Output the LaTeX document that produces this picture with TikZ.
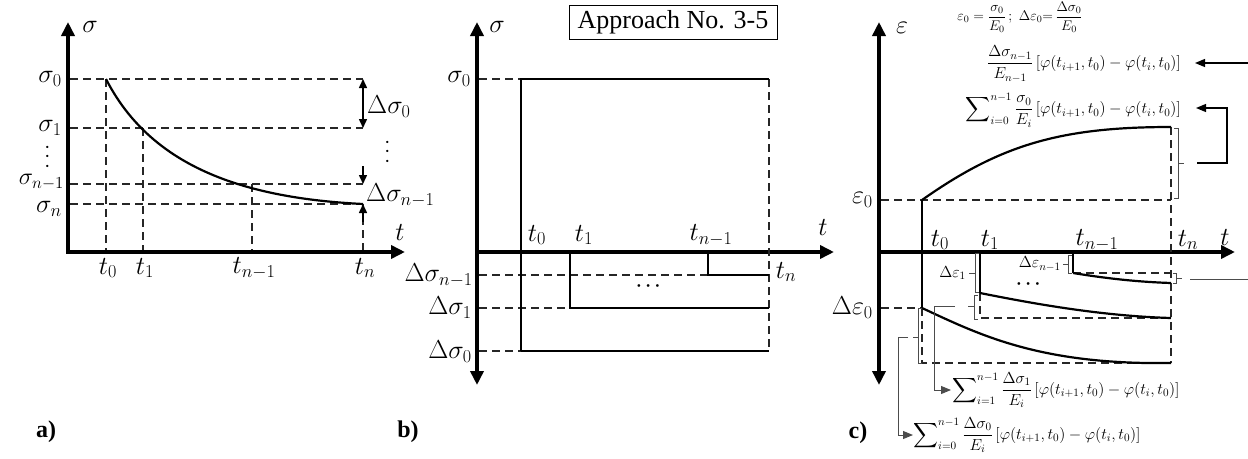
\RequirePackage{fix-cm}
\documentclass[tikz,border=0pt]{standalone}
\usepackage{amsmath}
\usepackage{fontspec}
\newfontfamily\tnr{Liberation Serif}
\usetikzlibrary{arrows.meta}
\begin{document}
\begin{tikzpicture}[x=1pt,y=-1pt,
  axis/.style={line width=3.5pt,line join=miter},
  tipA/.style={-{Triangle[length=14pt,width=13pt]}},
  ds/.style={line width=1.8pt,dash pattern=on 8pt off 5pt,black!85},
  crv/.style={line width=2.2pt},
  sol/.style={line width=1.8pt},
  dim/.style={line width=1.5pt},
  brk/.style={line width=1pt,black!70},
  lbl/.style={font=\fontsize{26}{30}\selectfont,inner sep=0pt},
  vdt/.style={font=\fontsize{22}{26}\selectfont,inner sep=0pt,rotate=90},
  expr/.style={font=\fontsize{16}{19}\selectfont,inner sep=0pt},
  tag/.style={font=\tnr\bfseries\fontsize{24}{28}\selectfont,inner sep=0pt}]
\useasboundingbox (0,0) rectangle (1248,458);

%================ panel a ================
\coordinate (aO) at (68,252);
\coordinate (aYt) at (68,22);
\coordinate (aXt) at (405,252);
\draw[axis,{Triangle[length=14pt,width=13pt]}-{Triangle[length=14pt,width=13pt]}] (aYt) -- (aO) -- (aXt);
\coordinate (a00) at (106,79);
\coordinate (a11) at (143,128);
\coordinate (ann1) at (252,184);
\coordinate (ann) at (363,204);
\coordinate (aL0) at (70,79);
\coordinate (aL1) at (70,128);
\coordinate (aLn1) at (70,184);
\coordinate (aLn) at (70,204);
\coordinate (aR0) at (363,79);
\coordinate (aR1) at (363,128);
\coordinate (aRn1) at (363,184);
\coordinate (aT0) at (106,250);
\coordinate (aT1) at (143,250);
\coordinate (aTn1) at (252,250);
\coordinate (aTn) at (363,250);
\draw[ds] (aL0)--(aR0) (aL1)--(aR1) (aLn1)--(aRn1) (aLn)--(ann);
\draw[ds] (a00)--(aT0) (a11)--(aT1) (ann1)--(aTn1) (ann)--(aTn);
\draw[crv] (a00) .. controls (150,165) and (240,198) .. (ann);
\draw[dim,{Triangle[length=9pt,width=8pt]}-{Triangle[length=9pt,width=8pt]}] (aR0)--(aR1);
\coordinate (aA) at (363,166);
\coordinate (aB) at (363,222);
\draw[dim,-{Triangle[length=9pt,width=8pt]}] (aA)--(aRn1);
\draw[dim,-{Triangle[length=9pt,width=8pt]}] (aB)--(ann);
\node[lbl] (asig) at (90,27) {$\sigma$};
\node[lbl,anchor=east] (as0) at (62,79) {$\sigma_0$};
\node[lbl,anchor=east] (as1) at (62,128) {$\sigma_1$};
\node[vdt] (avd) at (48,155) {$\cdots$};
\node[lbl,anchor=east,font=\fontsize{24}{28}\selectfont] (asn1) at (64,182) {$\sigma_{n-1}$};
\node[lbl,anchor=east] (asn) at (62,209) {$\sigma_n$};
\node[lbl] (at) at (400,233) {$t$};
\node[lbl] (at0) at (108,268) {$t_0$};
\node[lbl] (at1) at (145,268) {$t_1$};
\node[lbl] (atn1) at (254,268) {$t_{n-1}$};
\node[lbl] (atn) at (365,268) {$t_n$};
\node[lbl,anchor=west] (ads0) at (367,107) {$\Delta\sigma_0$};
\node[vdt] (avd2) at (388,150) {$\cdots$};
\node[lbl,anchor=west] (adsn1) at (366,195) {$\Delta\sigma_{n-1}$};
\node[tag] (atag) at (46,432) {a)};

%================ panel b ================
\coordinate (bO) at (477,252);
\coordinate (bYt) at (477,22);
\coordinate (bYb) at (477,385);
\coordinate (bXt) at (834,252);
\draw[axis,{Triangle[length=14pt,width=13pt]}-{Triangle[length=14pt,width=13pt]}] (bYt) -- (bYb);
\draw[axis,tipA] (bO) -- (bXt);
\coordinate (bL0) at (479,79);
\coordinate (bP0) at (521,79);
\coordinate (bQ0) at (769,79);
\coordinate (bP0b) at (521,351);
\coordinate (bQ0b) at (769,351);
\coordinate (bL0b) at (479,351);
\coordinate (bP1) at (570,252);
\coordinate (bP1b) at (570,308);
\coordinate (bQ1) at (769,308);
\coordinate (bL1) at (479,308);
\coordinate (bPn) at (708,252);
\coordinate (bPnb) at (708,275);
\coordinate (bQn) at (769,275);
\coordinate (bLn) at (479,275);
\draw[ds] (bL0)--(bP0) (bQ0)--(bQ0b) (bL0b)--(bP0b) (bL1)--(bP1b) (bLn)--(bPnb);
\draw[sol] (bP0b)--(bP0)--(bQ0);
\draw[sol] (bP0b)--(bQ0b);
\draw[sol] (bP1)--(bP1b)--(bQ1);
\draw[sol] (bPn)--(bPnb)--(bQn);
\node[lbl] (bsig) at (497,27) {$\sigma$};
\node[draw,line width=0.8pt,inner xsep=3pt,inner ysep=2pt,font=\tnr\fontsize{26}{30}\selectfont,minimum width=208pt,minimum height=34pt] (box) at (673,22) {Approach No. 3-5};
\node[lbl,anchor=east] (bs0) at (471,79) {$\sigma_0$};
\node[lbl] (bt0) at (537,235) {$t_0$};
\node[lbl] (bt1) at (584,235) {$t_1$};
\node[lbl] (btn1) at (711,235) {$t_{n-1}$};
\node[lbl] (btn) at (786,272) {$t_n$};
\node[lbl] (bt) at (823,228) {$t$};
\node[lbl,anchor=east] (bdsn1) at (473,275) {$\Delta\sigma_{n-1}$};
\node[lbl,anchor=east] (bds1) at (472,308) {$\Delta\sigma_1$};
\node[lbl,anchor=east] (bds0) at (472,352) {$\Delta\sigma_0$};
\node[lbl,font=\bfseries\fontsize{18}{22}\selectfont] (bdots) at (650,286) {$\boldsymbol{\cdots}$};
\node[tag] (btag) at (408,432) {b)};

%================ panel c ================
\coordinate (cO) at (879,252);
\coordinate (cYt) at (879,22);
\coordinate (cYb) at (879,385);
\coordinate (cXt) at (1235,252);
\draw[axis,{Triangle[length=14pt,width=13pt]}-{Triangle[length=14pt,width=13pt]}] (cYt) -- (cYb);
\draw[axis,tipA] (cO) -- (cXt);
% upper strain
\coordinate (cE0L) at (881,200);
\coordinate (cE0) at (922,200);
\coordinate (cE0R) at (1171,200);
\coordinate (cTop) at (1171,127);
\coordinate (cBot) at (1171,363);
\coordinate (cD0) at (922,308);
\coordinate (cD0L) at (881,308);
\coordinate (cD0b) at (922,363);
\draw[ds] (cE0L)--(cE0R);
\draw[ds] (cTop)--(cBot);
\draw[ds] (cD0L)--(cD0);
\draw[ds] (cD0)--(cD0b)--(cBot);
\draw[sol] (cE0)--(cD0);
\draw[crv] (cE0) .. controls (1000,145) and (1060,127) .. (cTop);
\draw[crv] (cD0) .. controls (980,335) and (1040,365) .. (cBot);
% t1 branch
\coordinate (c1a) at (980,252);
\coordinate (c1b) at (980,293);
\coordinate (c1c) at (980,318);
\coordinate (c1e) at (1171,318);
\draw[sol] (c1a)--(c1b);
\draw[ds] (c1b)--(c1c)--(c1e);
\draw[crv] (c1b) .. controls (1030,303) and (1100,316) .. (c1e);
% tn-1 branch
\coordinate (cna) at (1073,252);
\coordinate (cnb) at (1073,273);
\coordinate (cnd) at (1171,273);
\coordinate (cne) at (1171,283);
\draw[sol] (cna)--(cnb);
\draw[ds] (cnb)--(cnd);
\draw[crv] (cnb) .. controls (1110,279) and (1140,282) .. (cne);
% brackets
\draw[brk] (1174,128)--(1178,128)--(1178,198)--(1174,198) (1178,163)--(1184,163);
\coordinate (cr1) at (1197,163);
\coordinate (cr2) at (1227,163);
\coordinate (cr3) at (1227,108);
\coordinate (cr4) at (1196,108);
\draw[brk,line width=1.2pt,black,-{Triangle[length=10pt,width=8pt]}] (cr1)--(cr2)--(cr3)--(cr4);
\coordinate (cs1) at (1248,63);
\coordinate (cs2) at (1195,63);
\draw[brk,line width=1.2pt,black,-{Triangle[length=10pt,width=8pt]}] (cs1)--(cs2);
\draw[brk] (922,308)--(918,308)--(918,363)--(922,363) (918,337)--(913,337);
\coordinate (cl1) at (908,337);
\coordinate (cl2) at (898,337);
\coordinate (cl3) at (898,435);
\coordinate (cl4) at (913,435);
\draw[brk,-{Triangle[length=10pt,width=8pt]}] (cl1)--(cl2)--(cl3)--(cl4);
\draw[brk] (979,253)--(975,253)--(975,292)--(979,292) (975,273)--(969,273);
\draw[brk] (978,295)--(974,295)--(974,319)--(978,319) (974,306)--(968,306);
\coordinate (cm1) at (955,306);
\coordinate (cm2) at (934,306);
\coordinate (cm3) at (934,390);
\coordinate (cm4) at (951,390);
\draw[brk,-{Triangle[length=10pt,width=8pt]}] (cm1)--(cm2)--(cm3)--(cm4);
\draw[brk] (1072,255)--(1068,255)--(1068,273)--(1072,273) (1068,264)--(1063,264);
\draw[brk] (1173,273)--(1176,273)--(1176,283)--(1173,283) (1176,278)--(1182,278);
\coordinate (cq1) at (1190,279);
\coordinate (cq2) at (1248,279);
\draw[brk] (cq1)--(cq2);
% labels
\node[lbl] (ceps) at (902,28) {$\varepsilon$};
\node[lbl,anchor=east] (ce0) at (873,200) {$\varepsilon_0$};
\node[lbl,anchor=east] (cde0) at (873,308) {$\Delta\varepsilon_0$};
\node[lbl] (ct0) at (940,240) {$t_0$};
\node[lbl] (ct1) at (990,240) {$t_1$};
\node[lbl] (ctn1) at (1097,240) {$t_{n-1}$};
\node[lbl] (ctn) at (1188,240) {$t_n$};
\node[lbl] (ct) at (1225,238) {$t$};
\node[lbl,font=\bfseries\fontsize{18}{22}\selectfont] (cdots) at (1030,284) {$\boldsymbol{\cdots}$};
\node[expr,anchor=east] (cde1) at (966,273) {$\Delta\varepsilon_1$};
\node[expr,anchor=east] (cden1) at (1061,264) {$\Delta\varepsilon_{n-1}$};
\node[expr,font=\fontsize{14}{16}\selectfont] (ctop) at (1020,17) {$\varepsilon_0=\dfrac{\sigma_0}{E_0}\,;\ \Delta\varepsilon_0{=}\,\dfrac{\Delta\sigma_0}{E_0}$};
\node[expr,anchor=east] (cx1) at (1181,64) {$\dfrac{\Delta\sigma_{n-1}}{E_{n-1}}\,[\varphi(t_{i+1},t_0)-\varphi(t_i,t_0)]$};
\node[expr,anchor=east] (cx2) at (1181,110) {$\displaystyle\sum\nolimits_{i=0}^{n-1}\dfrac{\sigma_0}{E_i}\,[\varphi(t_{i+1},t_0)-\varphi(t_i,t_0)]$};
\node[expr,anchor=west] (cx3) at (952,390) {$\displaystyle\sum\nolimits_{i=1}^{n-1}\dfrac{\Delta\sigma_1}{E_i}\,[\varphi(t_{i+1},t_0)-\varphi(t_i,t_0)]$};
\node[expr,anchor=west] (cx4) at (913,435) {$\displaystyle\sum\nolimits_{i=0}^{n-1}\dfrac{\Delta\sigma_0}{E_i}\,[\varphi(t_{i+1},t_0)-\varphi(t_i,t_0)]$};
\node[tag] (ctag) at (858,433) {c)};
\end{tikzpicture}
\end{document}
